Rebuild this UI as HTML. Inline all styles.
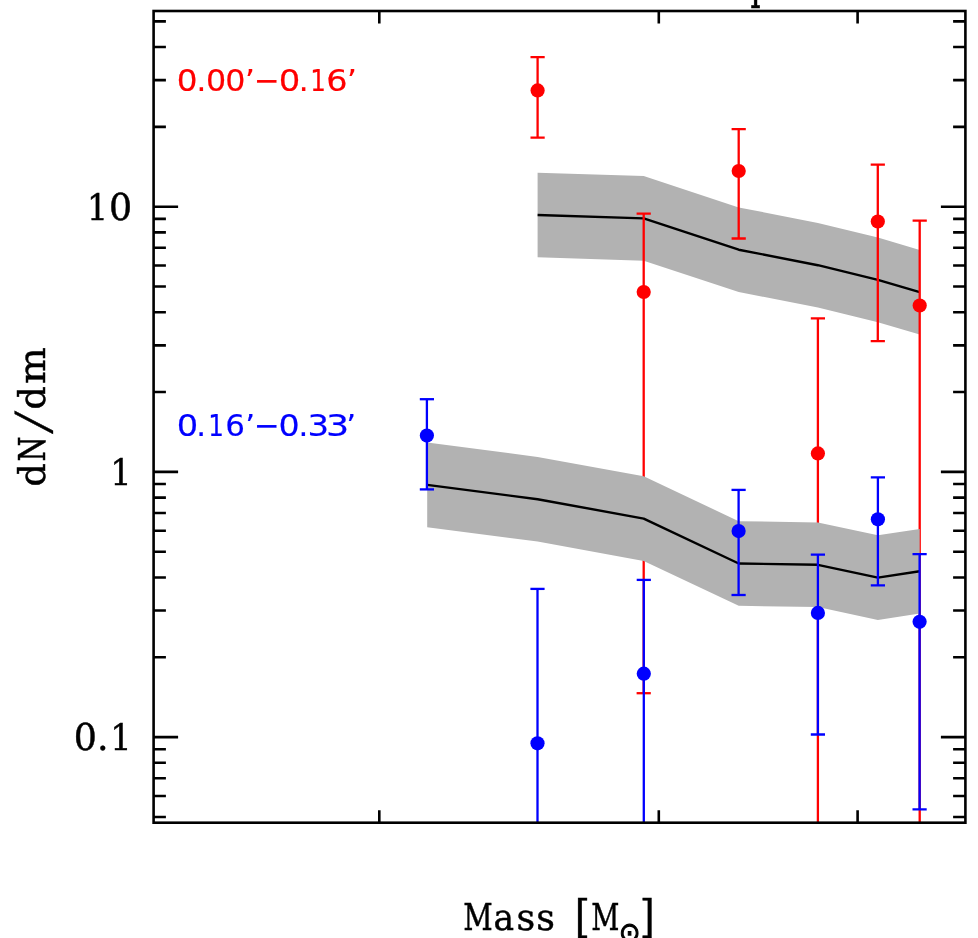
<!DOCTYPE html>
<html><head><meta charset="utf-8"><title>dN/dm</title><style>html,body{margin:0;padding:0;background:#fff;overflow:hidden}svg{display:block;will-change:transform}.serif{font-family:"DejaVu Serif","Liberation Serif",serif}.sans{font-family:"Liberation Sans","DejaVu Sans",sans-serif}</style></head><body>
<svg width="978" height="938" viewBox="0 0 978 938">
<rect width="978" height="938" fill="#fff"/>
<defs><clipPath id="c"><rect x="153.6" y="11" width="811.8" height="811.7"/></clipPath></defs>
<g clip-path="url(#c)">
<polygon fill="#b2b2b2" points="537.6,172.7 643.7,176.1 738.7,207.4 817.9,222.9 877.9,237.6 919.7,249.9 919.7,334.5 877.9,322.2 817.9,307.5 738.7,292 643.7,260.7 537.6,257.3"/>
<polyline fill="none" stroke="#000" stroke-width="2.4" stroke-linejoin="round" points="537.6,215 643.7,218.4 738.7,249.7 817.9,265.2 877.9,279.9 919.7,292.2"/>
<g stroke="#ff0000" stroke-width="2.3"><line x1="537.6" y1="57.2" x2="537.6" y2="137.7"/><line x1="530.5" y1="57.2" x2="544.7" y2="57.2"/><line x1="530.5" y1="137.7" x2="544.7" y2="137.7"/></g>
<circle cx="537.6" cy="90.4" r="7.1" fill="#ff0000"/>
<g stroke="#ff0000" stroke-width="2.3"><line x1="643.7" y1="213.7" x2="643.7" y2="693.2"/><line x1="636.6" y1="213.7" x2="650.8" y2="213.7"/><line x1="636.6" y1="693.2" x2="650.8" y2="693.2"/></g>
<circle cx="643.7" cy="292" r="7.1" fill="#ff0000"/>
<g stroke="#ff0000" stroke-width="2.3"><line x1="738.7" y1="129.2" x2="738.7" y2="238.5"/><line x1="731.6" y1="129.2" x2="745.8" y2="129.2"/><line x1="731.6" y1="238.5" x2="745.8" y2="238.5"/></g>
<circle cx="738.7" cy="171" r="7.1" fill="#ff0000"/>
<g stroke="#ff0000" stroke-width="2.3"><line x1="817.9" y1="318.4" x2="817.9" y2="827.7"/><line x1="810.8" y1="318.4" x2="825" y2="318.4"/></g>
<circle cx="817.9" cy="453.4" r="7.1" fill="#ff0000"/>
<g stroke="#ff0000" stroke-width="2.3"><line x1="877.8" y1="164.6" x2="877.8" y2="341.2"/><line x1="870.7" y1="164.6" x2="884.9" y2="164.6"/><line x1="870.7" y1="341.2" x2="884.9" y2="341.2"/></g>
<circle cx="877.8" cy="221.5" r="7.1" fill="#ff0000"/>
<g stroke="#ff0000" stroke-width="2.3"><line x1="919.7" y1="220.7" x2="919.7" y2="827.7"/><line x1="912.6" y1="220.7" x2="926.8" y2="220.7"/></g>
<circle cx="919.7" cy="305.5" r="7.1" fill="#ff0000"/>
<polygon fill="#b2b2b2" points="427.2,442.6 537.6,456.9 643.7,476.3 738.7,521.2 817.9,522.5 877.9,535.3 919.7,528.9 919.7,613.5 877.9,619.9 817.9,607.1 738.7,605.8 643.7,560.9 537.6,541.5 427.2,527.2"/>
<polyline fill="none" stroke="#000" stroke-width="2.4" stroke-linejoin="round" points="427.2,484.9 537.6,499.2 643.7,518.6 738.7,563.5 817.9,564.8 877.9,577.6 919.7,571.2"/>
<g stroke="#0000ff" stroke-width="2.3"><line x1="426.9" y1="399.2" x2="426.9" y2="489.4"/><line x1="419.8" y1="399.2" x2="434" y2="399.2"/><line x1="419.8" y1="489.4" x2="434" y2="489.4"/></g>
<circle cx="426.9" cy="435.6" r="7.1" fill="#0000ff"/>
<g stroke="#0000ff" stroke-width="2.3"><line x1="537.5" y1="588.9" x2="537.5" y2="827.7"/><line x1="530.4" y1="588.9" x2="544.6" y2="588.9"/></g>
<circle cx="537.5" cy="743.3" r="7.1" fill="#0000ff"/>
<g stroke="#0000ff" stroke-width="2.3"><line x1="643.8" y1="579.9" x2="643.8" y2="827.7"/><line x1="636.7" y1="579.9" x2="650.9" y2="579.9"/></g>
<circle cx="643.8" cy="673.7" r="7.1" fill="#0000ff"/>
<g stroke="#0000ff" stroke-width="2.3"><line x1="738.6" y1="489.9" x2="738.6" y2="595"/><line x1="731.5" y1="489.9" x2="745.7" y2="489.9"/><line x1="731.5" y1="595" x2="745.7" y2="595"/></g>
<circle cx="738.6" cy="531.1" r="7.1" fill="#0000ff"/>
<g stroke="#0000ff" stroke-width="2.3"><line x1="817.9" y1="554.6" x2="817.9" y2="734.5"/><line x1="810.8" y1="554.6" x2="825" y2="554.6"/><line x1="810.8" y1="734.5" x2="825" y2="734.5"/></g>
<circle cx="817.9" cy="612.9" r="7.1" fill="#0000ff"/>
<g stroke="#0000ff" stroke-width="2.3"><line x1="877.9" y1="477.4" x2="877.9" y2="585.3"/><line x1="870.8" y1="477.4" x2="885" y2="477.4"/><line x1="870.8" y1="585.3" x2="885" y2="585.3"/></g>
<circle cx="877.9" cy="519.3" r="7.1" fill="#0000ff"/>
<g stroke="#0000ff" stroke-width="2.3"><line x1="919.6" y1="554.1" x2="919.6" y2="809.3"/><line x1="912.5" y1="554.1" x2="926.7" y2="554.1"/><line x1="912.5" y1="809.3" x2="926.7" y2="809.3"/></g>
<circle cx="919.6" cy="621.8" r="7.1" fill="#0000ff"/>
</g>
<path fill="none" stroke="#000" stroke-width="2.6" d="M153.6 206.7H178.1M965.4 206.7H940.9M153.6 471.9H178.1M965.4 471.9H940.9M153.6 737.1H178.1M965.4 737.1H940.9M153.6 816.93H165.9M965.4 816.93H953.1M153.6 795.93H165.9M965.4 795.93H953.1M153.6 778.18H165.9M965.4 778.18H953.1M153.6 762.8H165.9M965.4 762.8H953.1M153.6 749.23H165.9M965.4 749.23H953.1M153.6 657.27H165.9M965.4 657.27H953.1M153.6 610.57H165.9M965.4 610.57H953.1M153.6 577.43H165.9M965.4 577.43H953.1M153.6 551.73H165.9M965.4 551.73H953.1M153.6 530.73H165.9M965.4 530.73H953.1M153.6 512.98H165.9M965.4 512.98H953.1M153.6 497.6H165.9M965.4 497.6H953.1M153.6 484.03H165.9M965.4 484.03H953.1M153.6 392.07H165.9M965.4 392.07H953.1M153.6 345.37H165.9M965.4 345.37H953.1M153.6 312.23H165.9M965.4 312.23H953.1M153.6 286.53H165.9M965.4 286.53H953.1M153.6 265.53H165.9M965.4 265.53H953.1M153.6 247.78H165.9M965.4 247.78H953.1M153.6 232.4H165.9M965.4 232.4H953.1M153.6 218.83H165.9M965.4 218.83H953.1M153.6 126.87H165.9M965.4 126.87H953.1M153.6 80.17H165.9M965.4 80.17H953.1M153.6 47.03H165.9M965.4 47.03H953.1M153.6 21.33H165.9M965.4 21.33H953.1M379.3 11V23.5M379.3 822.7V810.2M658.8 11V23.5M658.8 822.7V810.2M857.6 11V23.5M857.6 822.7V810.2"/>
<rect x="153.6" y="11" width="811.8" height="811.7" fill="none" stroke="#000" stroke-width="2.6"/>
<text class="serif" fill="#000" stroke="#000" stroke-width="0.45" font-size="36.4px" y="220.1"><tspan x="87.07" textLength="21.04" lengthAdjust="spacingAndGlyphs" font-size="35.3px">1</tspan><tspan x="108.97">0</tspan></text>
<text class="serif" fill="#000" stroke="#000" stroke-width="0.45" font-size="36.4px" y="485.1"><tspan x="110.2" textLength="21.38" lengthAdjust="spacingAndGlyphs" font-size="35.3px">1</tspan></text>
<text class="serif" fill="#000" stroke="#000" stroke-width="0.45" font-size="36.4px" y="750.3"><tspan x="73.77">0</tspan><tspan x="97.01">.</tspan><tspan x="110.2" textLength="21.38" lengthAdjust="spacingAndGlyphs" font-size="35.3px">1</tspan></text>
<text class="serif" fill="#000" stroke="#000" stroke-width="0.45" font-size="36.4px" y="930.3"><tspan x="463.16" textLength="29.48" lengthAdjust="spacingAndGlyphs">M</tspan><tspan x="493.57" textLength="20.6" lengthAdjust="spacingAndGlyphs">a</tspan><tspan x="516.52">s</tspan><tspan x="536.22">s</tspan> <tspan x="574.74" y="932.4" textLength="15.23" lengthAdjust="spacingAndGlyphs" font-size="45.7px">[</tspan><tspan x="591.13" y="930.3" textLength="28.15" lengthAdjust="spacingAndGlyphs">M</tspan><tspan x="618.75" y="941.8" textLength="21.4" lengthAdjust="spacingAndGlyphs" font-family="'DejaVu Sans',sans-serif" font-size="27.5px" stroke-width="1.1">&#x2299;</tspan><tspan x="639.7" y="932.4" textLength="15.02" lengthAdjust="spacingAndGlyphs" font-size="45.7px">]</tspan></text>
<text class="serif" fill="#000" stroke="#000" stroke-width="0.45" font-size="36.4px" transform="translate(45,0) rotate(-90)" y="0"><tspan x="-486.56">d</tspan><tspan x="-461.38" textLength="25.11" lengthAdjust="spacingAndGlyphs">N</tspan><tspan x="-434.55" y="0.5" textLength="24.3" lengthAdjust="spacingAndGlyphs" font-family="'Noto Serif CJK SC','DejaVu Serif',serif" font-size="40.6px" stroke-width="0.3">/</tspan><tspan x="-409.61" y="0">d</tspan><tspan x="-384.09" textLength="36.69" lengthAdjust="spacingAndGlyphs">m</tspan></text>
<text class="serif" font-size="36.4px" transform="translate(750.5,-1.3) scale(0.87,1.24)" fill="#000" stroke="#000" stroke-width="0.5">p</text>
<text font-family="'DejaVu Sans','Liberation Sans',sans-serif" font-size="30.8px" fill="#ff0000" stroke="#ff0000" stroke-width="0.2" y="91.4"><tspan x="176.74" textLength="20.83" lengthAdjust="spacingAndGlyphs">0</tspan><tspan x="196.58">.</tspan><tspan x="205.9" textLength="20.2" lengthAdjust="spacingAndGlyphs">0</tspan><tspan x="225.3" textLength="20.2" lengthAdjust="spacingAndGlyphs">0</tspan><tspan x="245.1">&#x2019;</tspan><tspan x="253.94">&#x2212;</tspan><tspan x="278.66" textLength="21.59" lengthAdjust="spacingAndGlyphs">0</tspan><tspan x="298.83">.</tspan><tspan x="310.29" textLength="15.69" lengthAdjust="spacingAndGlyphs">1</tspan><tspan x="326.35" textLength="21.33" lengthAdjust="spacingAndGlyphs">6</tspan><tspan x="346.9">&#x2019;</tspan></text>
<text font-family="'DejaVu Sans','Liberation Sans',sans-serif" font-size="30.8px" fill="#0000ff" stroke="#0000ff" stroke-width="0.2" y="435.9"><tspan x="176.67" textLength="21.46" lengthAdjust="spacingAndGlyphs">0</tspan><tspan x="196.33">.</tspan><tspan x="208.19" textLength="15.69" lengthAdjust="spacingAndGlyphs">1</tspan><tspan x="225.23" textLength="19.69" lengthAdjust="spacingAndGlyphs">6</tspan><tspan x="245.35">&#x2019;</tspan><tspan x="253.94">&#x2212;</tspan><tspan x="278.4" textLength="21.21" lengthAdjust="spacingAndGlyphs">0</tspan><tspan x="298.58">.</tspan><tspan x="307.62" textLength="21.6" lengthAdjust="spacingAndGlyphs">3</tspan><tspan x="325.93" textLength="23.2" lengthAdjust="spacingAndGlyphs">3</tspan><tspan x="346.35">&#x2019;</tspan></text>
</svg></body></html>
